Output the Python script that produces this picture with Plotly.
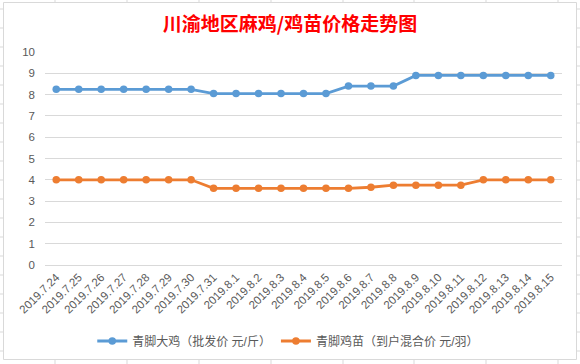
import plotly.graph_objects as go

dates = ["2019.7.24", "2019.7.25", "2019.7.26", "2019.7.27", "2019.7.28", "2019.7.29",
         "2019.7.30", "2019.7.31", "2019.8.1", "2019.8.2", "2019.8.3", "2019.8.4",
         "2019.8.5", "2019.8.6", "2019.8.7", "2019.8.8", "2019.8.9", "2019.8.10",
         "2019.8.11", "2019.8.12", "2019.8.13", "2019.8.14", "2019.8.15"]
big_chicken = [8.25, 8.25, 8.25, 8.25, 8.25, 8.25, 8.25, 8.05, 8.05, 8.05, 8.05, 8.05,
               8.05, 8.4, 8.4, 8.4, 8.9, 8.9, 8.9, 8.9, 8.9, 8.9, 8.9]
chick = [4.0, 4.0, 4.0, 4.0, 4.0, 4.0, 4.0, 3.6, 3.6, 3.6, 3.6, 3.6, 3.6, 3.6, 3.65,
         3.75, 3.75, 3.75, 3.75, 4.0, 4.0, 4.0, 4.0]
series_names = ["青脚大鸡（批发价 元/斤）", "青脚鸡苗（到户混合价 元/羽）"]
title_text = "川渝地区麻鸡/鸡苗价格走势图"
y_ticks = [0, 1, 2, 3, 4, 5, 6, 7, 8, 9, 10]

FONT = "Liberation Sans, Noto Sans CJK SC, sans-serif"
GRAY = "#595959"
GRID = "#D9D9D9"

fig = go.Figure()
for vals, name, color in [(big_chicken, series_names[0], "#5B9BD5"),
                          (chick, series_names[1], "#ED7D31")]:
    fig.add_trace(go.Scatter(
        x=dates, y=vals, name=name, mode="lines+markers",
        line=dict(color=color, width=2.8),
        marker=dict(color=color, size=7.5),
    ))

W, H = 580, 364
shapes = []
# spreadsheet cell lines peeking outside the chart box
for yy in range(9, H, 19):
    for x0, x1 in [(0, 3), (577, 580)]:
        shapes.append(dict(type="line", xref="paper", yref="paper",
                           x0=(x0 - 45) / 517, x1=(x1 - 45) / 517,
                           y0=(265 - yy) / 213, y1=(265 - yy) / 213,
                           line=dict(color=GRID, width=1), layer="below"))
for xx in [55, 127, 199, 271, 343, 414, 486, 558]:
    for y0, y1 in [(0, 2), (360, 364)]:
        shapes.append(dict(type="line", xref="paper", yref="paper",
                           x0=(xx - 45) / 517, x1=(xx - 45) / 517,
                           y0=(265 - y0) / 213, y1=(265 - y1) / 213,
                           line=dict(color=GRID, width=1), layer="below"))
# chart area border
shapes.append(dict(type="rect", xref="paper", yref="paper",
                   x0=(3.5 - 45) / 517, x1=(576.5 - 45) / 517,
                   y0=(265 - 2.5) / 213, y1=(265 - 359.5) / 213,
                   line=dict(color=GRID, width=1), fillcolor="rgba(0,0,0,0)",
                   layer="below"))

fig.update_layout(
    width=W, height=H,
    margin=dict(l=45, r=18, t=52, b=99, autoexpand=False),
    paper_bgcolor="white", plot_bgcolor="white",
    font=dict(family=FONT, color=GRAY, size=11),
    title=dict(text=title_text, x=0.5, xanchor="center", xref="container",
               y=1 - 24 / H, yanchor="middle", yref="container",
               font=dict(family="Noto Sans CJK SC", size=19, color="#FF0000",
                         weight="bold")),
    showlegend=True,
    legend=dict(orientation="h", x=0.497, xanchor="center", xref="container",
                y=1 - 341 / H, yanchor="middle", yref="container",
                font=dict(size=12, color=GRAY, family=FONT),
                itemwidth=30, tracegroupgap=0),
    xaxis=dict(type="category", range=[-0.5, len(dates) - 0.5],
               tickangle=-45, tickfont=dict(size=11.5, color=GRAY),
               showgrid=False, showline=True, linecolor=GRID, ticks="",
               zeroline=False, automargin=False),
    yaxis=dict(range=[0, 10], tickvals=y_ticks, showgrid=True, gridcolor=GRID,
               gridwidth=1, zeroline=True, zerolinecolor=GRID, zerolinewidth=1,
               showline=False, ticks="", tickfont=dict(size=11.5, color=GRAY),
               ticklabelstandoff=9, automargin=False),
    shapes=shapes,
)

fig.write_html("out.html",
               config={"displayModeBar": False},
               post_script="document.body.style.margin='0';document.body.style.overflow='hidden';")
